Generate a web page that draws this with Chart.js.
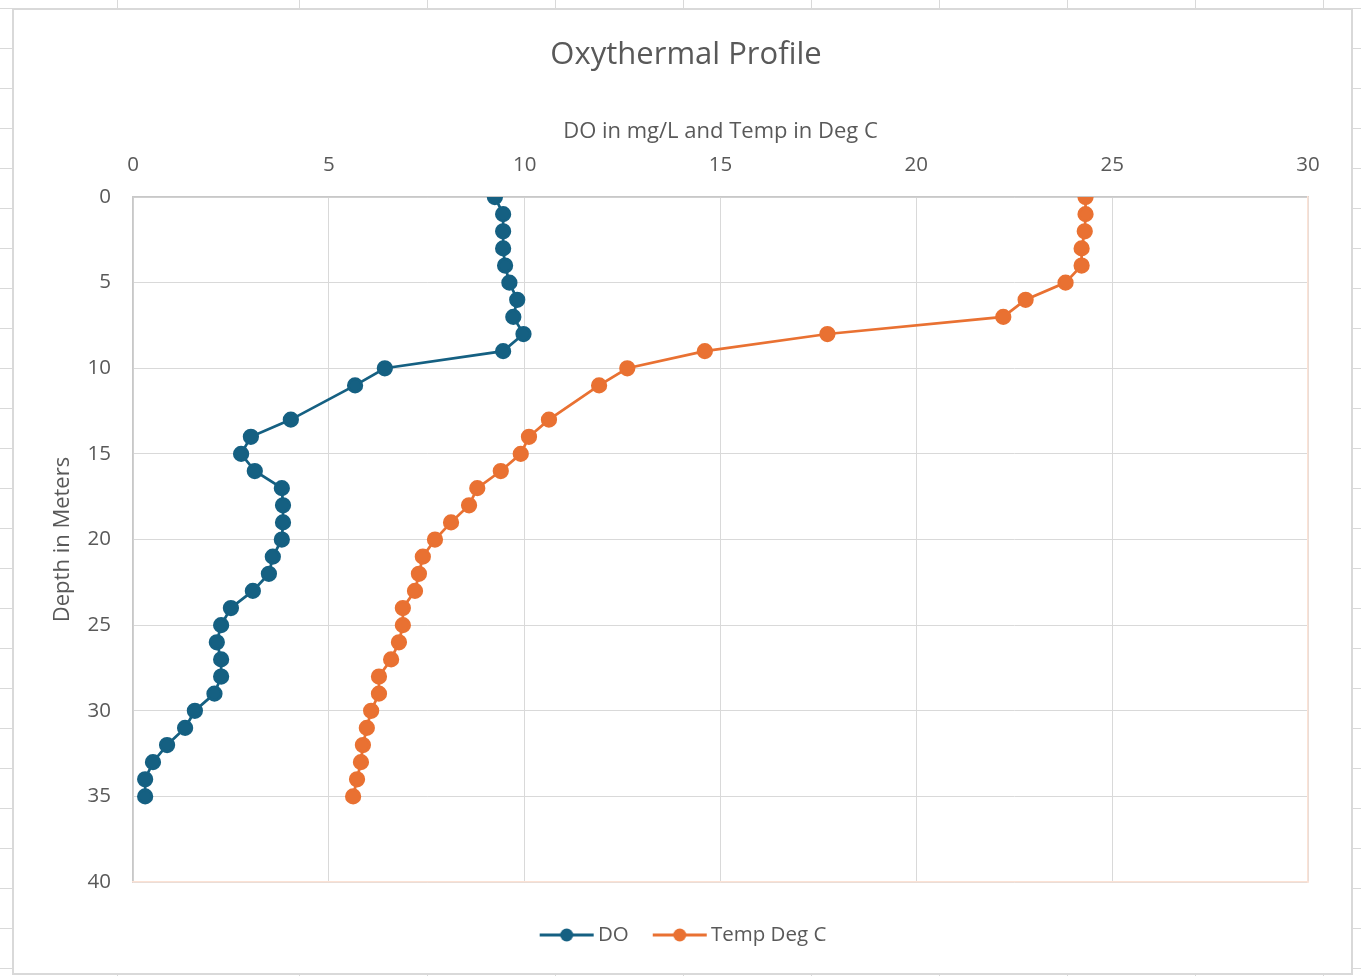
<!DOCTYPE html>
<html>
<head>
<meta charset="utf-8">
<script src="https://cdn.jsdelivr.net/npm/chart.js@4.4.1/dist/chart.umd.min.js"></script>
<style>
  html, body { margin: 0; padding: 0; background: #fff; }
  body { width: 1361px; height: 976px; position: relative; overflow: hidden; }
  #sheet { position: absolute; left: 0; top: 0; width: 1361px; height: 976px;
    background-image: repeating-linear-gradient(180deg, transparent 0px, transparent 8px, #d9d9d9 8px, #d9d9d9 9px, transparent 9px, transparent 40px); }
  .vl { position: absolute; top: 0; width: 1px; height: 976px; background: #d9d9d9; }
  #frame { position: absolute; left: 12px; top: 8px; width: 1341px; height: 967px; box-sizing: border-box;
    border: 2px solid #d9d9d9; background: #fff; }
  #c { position: absolute; left: 0; top: 0; }
</style>
</head>
<body>
<div id="sheet"></div>
<div id="frame"></div>
<canvas id="c" width="1361" height="976"></canvas>
<script>
// ---- data ----
const depth = [0,1,2,3,4,5,6,7,8,9,10,11,13,14,15,16,17,18,19,20,21,22,23,24,25,26,27,28,29,30,31,32,33,34,35];
const doValues = [9.24,9.45,9.45,9.45,9.5,9.61,9.81,9.71,9.97,9.45,6.43,5.67,4.03,3.01,2.76,3.11,3.8,3.83,3.83,3.8,3.57,3.47,3.06,2.5,2.25,2.14,2.25,2.25,2.08,1.58,1.33,0.87,0.51,0.31,0.31];
const tempValues = [24.32,24.32,24.3,24.22,24.22,23.81,22.79,22.22,17.73,14.6,12.62,11.9,10.62,10.11,9.9,9.39,8.79,8.58,8.12,7.71,7.4,7.3,7.2,6.89,6.89,6.79,6.59,6.28,6.28,6.08,5.97,5.87,5.82,5.72,5.62];
const seriesNames = ['DO', 'Temp Deg C'];
const xTicks = [0,5,10,15,20,25,30];
const yTicks = [0,5,10,15,20,25,30,35,40];

// spreadsheet column lines (decoration)
[117,299,427,555,683,811,939,1067,1195,1323].forEach(x => {
  const d = document.createElement('div'); d.className = 'vl'; d.style.left = x + 'px';
  document.body.insertBefore(d, document.getElementById('frame'));
});

const BLUE = '#156082', ORANGE = '#E97132', TXT = '#595959';
const FONT = "'Open Sans', 'Noto Sans', sans-serif";

function legendIcon(color) {
  const cv = document.createElement('canvas');
  cv.width = 56; cv.height = 14;
  const g = cv.getContext('2d');
  g.strokeStyle = color; g.lineWidth = 3;
  g.beginPath(); g.moveTo(1, 7); g.lineTo(55, 7); g.stroke();
  g.fillStyle = color; g.beginPath(); g.arc(28, 7, 6.5, 0, Math.PI * 2); g.fill();
  return cv;
}
const icons = [legendIcon(BLUE), legendIcon(ORANGE)];

const mk = (vals) => vals.map((v, i) => ({x: v, y: depth[i]}));

new Chart(document.getElementById('c'), {
  type: 'line',
  data: {
    datasets: [
      { label: seriesNames[0], data: mk(doValues), borderColor: BLUE, backgroundColor: BLUE,
        pointBackgroundColor: BLUE, pointBorderColor: BLUE, borderWidth: 2.75, pointRadius: 6.75,
        pointHoverRadius: 6.75, tension: 0, fill: false },
      { label: seriesNames[1], data: mk(tempValues), borderColor: ORANGE, backgroundColor: ORANGE,
        pointBackgroundColor: ORANGE, pointBorderColor: ORANGE, borderWidth: 2.75, pointRadius: 6.75,
        pointHoverRadius: 6.75, tension: 0, fill: false }
    ]
  },
  options: {
    responsive: false,
    devicePixelRatio: 1,
    animation: false,
    layout: { padding: { left: 52, right: 41, top: 0, bottom: 20.75 } },
    plugins: {
      title: { display: true, text: 'Oxythermal Profile', color: TXT,
        font: { family: FONT, size: 31, weight: 'normal', lineHeight: 1.2 },
        padding: { top: 36.4, bottom: 8 } },
      legend: { position: 'bottom',
        labels: { usePointStyle: true, pointStyleWidth: 42, padding: 30, color: TXT,
          font: { family: FONT, size: 20.5 },
          generateLabels: (chart) => chart.data.datasets.map((ds, i) => ({
            text: ds.label, pointStyle: icons[i], fillStyle: ds.borderColor, strokeStyle: ds.borderColor,
            lineWidth: 0, hidden: false, datasetIndex: i, fontColor: TXT })) } },
      tooltip: { enabled: false }
    },
    scales: {
      x: { type: 'linear', position: 'top', min: 0, max: 30,
        afterBuildTicks: (s) => { s.ticks = xTicks.map(v => ({value: v})); },
        afterFit: (s) => { s.height = 115.4; },
        ticks: { color: TXT, font: { family: FONT, size: 20.5 }, padding: 19.2, maxRotation: 0 },
        grid: { color: '#d9d9d9', lineWidth: 1, drawTicks: false },
        border: { color: '#c8c8c8', width: 1.5 },
        title: { display: true, text: 'DO in mg/L and Temp in Deg C', color: TXT,
          font: { family: FONT, size: 22, lineHeight: 1.2 }, padding: { top: 37, bottom: 0 } } },
      y: { type: 'linear', position: 'left', reverse: true, min: 0, max: 40,
        afterBuildTicks: (s) => { s.ticks = yTicks.map(v => ({value: v})); },
        afterFit: (s) => { s.width = 81; },
        ticks: { color: TXT, font: { family: FONT, size: 20.5 }, padding: 22 },
        grid: { color: '#d9d9d9', lineWidth: 1, drawTicks: false },
        border: { color: '#c8c8c8', width: 1.5 },
        title: { display: true, text: 'Depth in Meters', color: TXT,
          font: { family: FONT, size: 22, lineHeight: 1 }, padding: { top: 0, bottom: 0 } } },
      x2: { type: 'linear', axis: 'x', position: 'bottom', min: 0, max: 30,
        afterFit: (s) => { s.height = 12.75; },
        ticks: { display: false }, grid: { display: false, drawTicks: false },
        border: { color: '#fbe2d5', width: 1.5 } },
      y2: { type: 'linear', axis: 'y', position: 'right', min: 0, max: 40,
        afterFit: (s) => { s.width = 12; },
        ticks: { display: false }, grid: { display: false, drawTicks: false },
        border: { color: '#fbe2d5', width: 1.5 } }
    }
  }
});
</script>
</body>
</html>
